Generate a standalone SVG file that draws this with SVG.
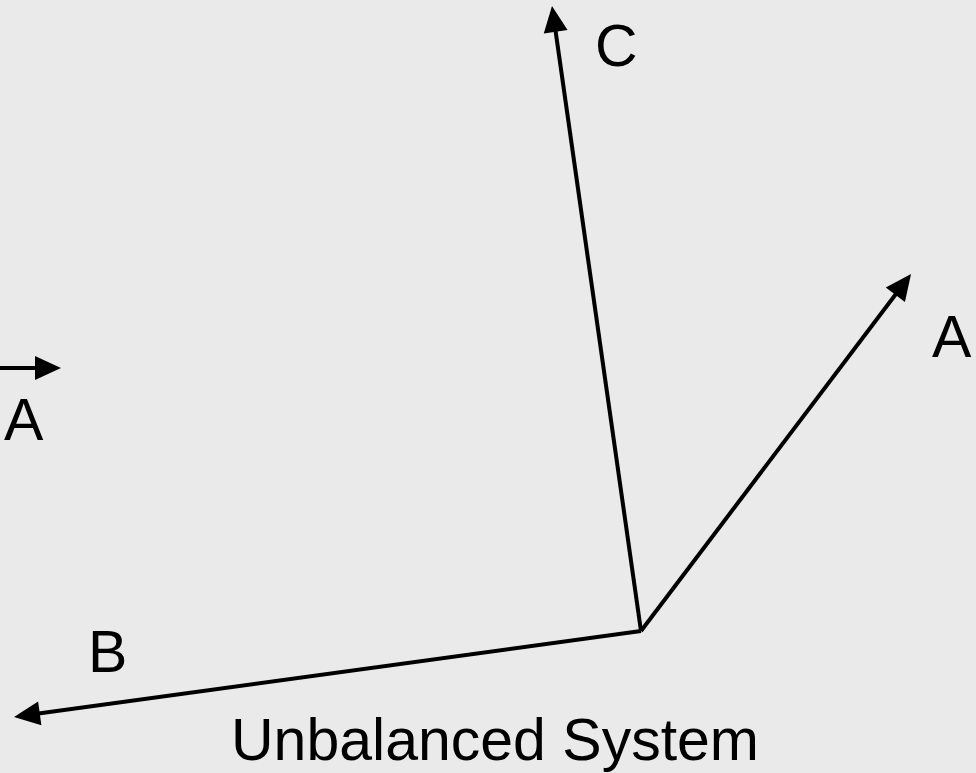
<svg xmlns="http://www.w3.org/2000/svg" width="976" height="773" viewBox="0 0 976 773">
<style>
.l{stroke:#000;stroke-width:4;fill:none;marker-end:url(#ah)}
.t{font-family:"Liberation Sans",Arial,sans-serif;font-size:59px;fill:#000}
</style>
<defs>
<marker id="ah" markerUnits="userSpaceOnUse" markerWidth="28" markerHeight="26" refX="16" refY="12" orient="auto" overflow="visible">
<path d="M0,0 L26,12 L0,24 Z" fill="#000"/>
</marker>
</defs>
<rect width="976" height="773" fill="#EAEAEA"/>
<g id="connectors">
<line class="l" x1="641" y1="631" x2="553.4" y2="15.9"/>
<line class="l" x1="641" y1="631" x2="905" y2="282"/>
<line class="l" x1="641" y1="631" x2="23.9" y2="715.6"/>
<line class="l" x1="0" y1="368" x2="51" y2="368"/>
</g>
<g id="labelC"><text class="t" x="595" y="66">C</text></g>
<g id="labelA1"><text class="t" x="932" y="357">A</text></g>
<g id="labelA2"><text class="t" x="4" y="440">A</text></g>
<g id="labelB"><text class="t" x="88" y="672">B</text></g>
<g id="title"><text class="t" x="231" y="760">Unbalanced System</text></g>
</svg>
